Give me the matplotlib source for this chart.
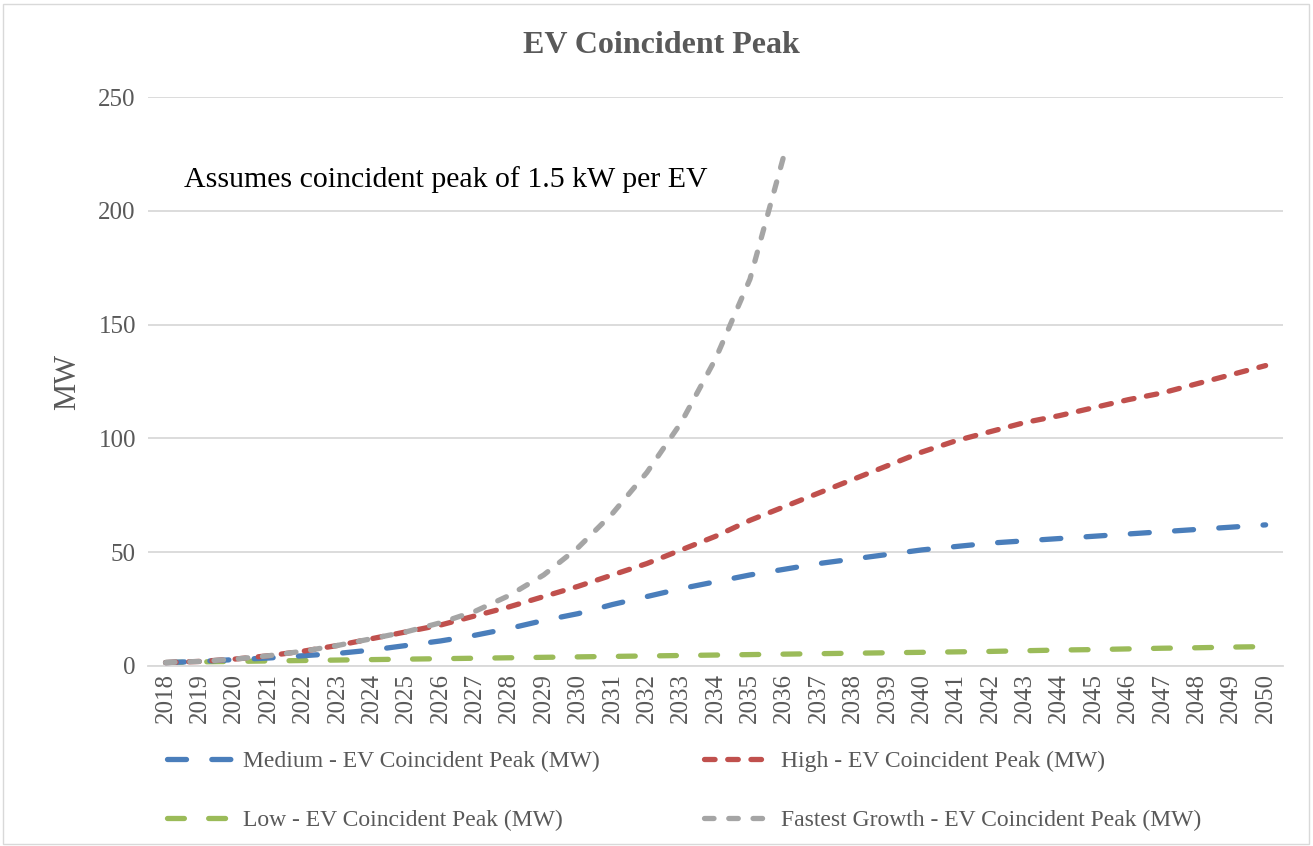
import matplotlib
matplotlib.use("Agg")
import matplotlib.pyplot as plt
from matplotlib.patches import Rectangle

years = list(range(2018, 2051))

medium = [1.5, 2.0, 2.8, 3.5, 4.5, 5.5, 7.0, 9.0, 11.0, 13.5, 16.5, 20.0, 23.0,
          27.0, 30.5, 34.0, 37.0, 40.0, 42.5, 45.0, 47.0, 49.0, 51.0, 52.5,
          54.0, 55.0, 56.0, 57.0, 58.0, 59.0, 60.0, 61.0, 62.0]
high = [1.5, 2.0, 3.0, 4.5, 6.5, 9.0, 12.0, 15.0, 18.0, 22.0, 26.0, 30.5, 35.0,
        40.0, 45.0, 51.0, 57.0, 64.0, 70.0, 76.0, 82.0, 88.0, 94.0, 99.0,
        103.0, 107.0, 110.0, 113.5, 117.0, 120.0, 124.0, 128.0, 132.0]
low = [1.5, 1.8, 2.0, 2.2, 2.4, 2.6, 2.8, 3.0, 3.2, 3.4, 3.6, 3.8, 4.0,
       4.2, 4.4, 4.6, 4.8, 5.0, 5.2, 5.4, 5.6, 5.8, 6.0, 6.2, 6.4, 6.7,
       7.0, 7.2, 7.5, 7.8, 8.0, 8.3, 8.5]
fastest = [1.5, 2.0, 3.0, 4.5, 6.5, 9.0, 12.0, 15.0, 19.0, 24.0, 31.0, 40.0,
           52.0, 67.0, 85.0, 107.0, 135.0, 170.0, 225.0]

names = ["Medium - EV Coincident Peak (MW)", "High - EV Coincident Peak (MW)",
         "Low - EV Coincident Peak (MW)", "Fastest Growth - EV Coincident Peak (MW)"]
colors = ["#4a7ebb", "#c0504d", "#9bbb59", "#a5a5a5"]
dash_styles = [(3.6, 4.8), (2.0, 2.4), (3.2, 4.6), (1.8, 2.8)]

plt.rcParams['font.family'] = ['Liberation Serif', 'DejaVu Serif']
txt = "#595959"

fig = plt.figure(figsize=(13.13, 8.46), dpi=100)
ax = fig.add_axes([0.113, 0.2128, 0.864, 0.6725])

x = list(range(len(years)))
lw = 3.8
series = [medium, high, low, fastest]
zorders = [3, 4, 2, 5]
for vals, c, d, z in zip(series, colors, dash_styles, zorders):
    ax.plot(x[:len(vals)], vals, color=c, lw=lw, dashes=d, dash_capstyle='round', zorder=z)

ax.set_xlim(-0.5, len(years) - 0.5)
ax.set_ylim(0, 250)
ax.set_yticks([0, 50, 100, 150, 200, 250])
ax.set_xticks(x)
ax.set_xticklabels([str(y) for y in years], rotation=90)
ax.tick_params(axis='both', colors=txt, labelsize=18, length=0, pad=9)
ax.tick_params(axis='x', length=0, pad=5)
ax.grid(axis='y', color="#d9d9d9", lw=1.3)
ax.set_axisbelow(True)
for s in ['top', 'right', 'left']:
    ax.spines[s].set_visible(False)
ax.spines['bottom'].set_color("#d9d9d9")
ax.spines['bottom'].set_linewidth(1.3)

ax.set_ylabel("MW", fontsize=22, color=txt, labelpad=12)
fig.text(0.504, 0.946, "EV Coincident Peak", ha='center', va='center',
         fontsize=23, fontweight='bold', color=txt)
ax.text(0.031, 0.855, "Assumes coincident peak of 1.5 kW per EV", transform=ax.transAxes,
        fontsize=21.5, color='black', va='center')

handles = [plt.Line2D([], [], color=c, lw=lw, dashes=d, dash_capstyle='round')
           for c, d in zip(colors, dash_styles)]
# legend fills column by column, so reorder to get Medium/High on the first row
order = [0, 2, 1, 3]
leg = fig.legend([handles[i] for i in order], [names[i] for i in order],
                 loc='center left', bbox_to_anchor=(0.127, 0.065), ncol=2,
                 frameon=False, fontsize=17, handlelength=2.75, columnspacing=4.4,
                 labelspacing=1.6, handletextpad=0.5, borderpad=0, borderaxespad=0)
for t in leg.get_texts():
    t.set_color(txt)

fig.patches.append(Rectangle((0.002, 0.002), 0.995, 0.993, transform=fig.transFigure,
                             fill=False, edgecolor="#d9d9d9", lw=1))

fig.savefig("out.png", dpi=100)
